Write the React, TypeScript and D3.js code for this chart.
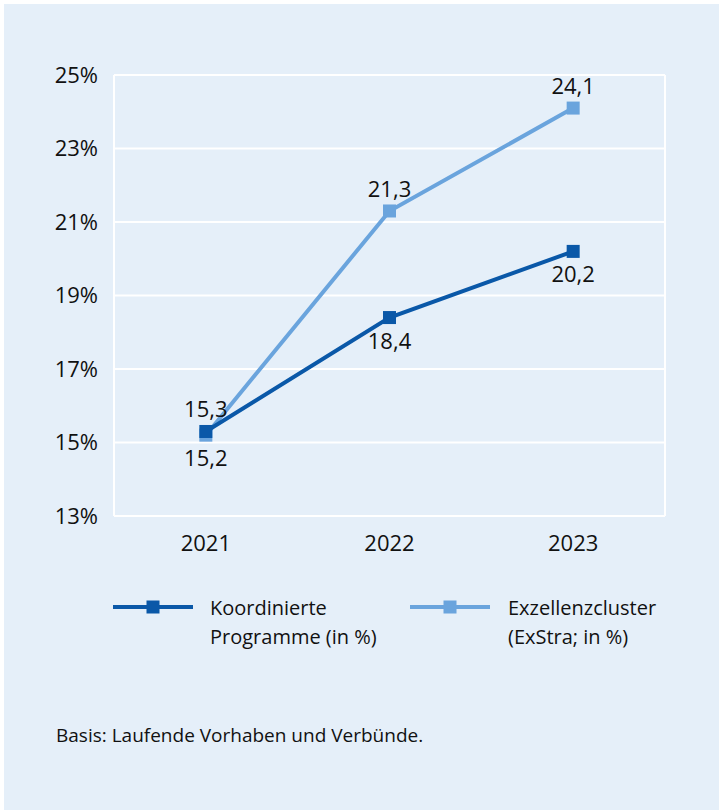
import React from "react";
import * as d3 from "d3";

const years = ["2021", "2022", "2023"];
const koordinierte = [15.3, 18.4, 20.2];
const exzellenz = [15.2, 21.3, 24.1];
const yTicks = [13, 15, 17, 19, 21, 23, 25];
const series = [
  { name: ["Koordinierte", "Programme (in %)"], values: koordinierte, color: "#0a58a8", labelPos: ["above", "below", "below"] },
  { name: ["Exzellenzcluster", "(ExStra; in %)"], values: exzellenz, color: "#6aa4dd", labelPos: ["below", "above", "above"] },
];
const footnote = "Basis: Laufende Vorhaben und Verbünde.";

const W = 726, H = 810;
const plot = { left: 114, right: 665, top: 75, bottom: 516 };
const FONT = "'Open Sans', 'Noto Sans', sans-serif";

export default function App() {
  const x = d3.scalePoint<string>().domain(years).range([plot.left, plot.right]).padding(0.5);
  const y = d3.scaleLinear().domain([13, 25]).range([plot.bottom, plot.top]);
  const line = d3.line<number>().x((_, i) => x(years[i]) as number).y((d) => y(d));
  const fmt = (v: number) => v.toFixed(1).replace(".", ",");
  const ms = 13;
  const drawOrder = [1, 0];
  return (
    <svg width={W} height={H} style={{ position: "absolute", left: 0, top: 0 }} fontFamily={FONT}>
      <rect x={0} y={0} width={W} height={H} fill="#ffffff" />
      <rect x={4} y={4} width={715} height={806} fill="#e5eff9" />
      {yTicks.map((t) => (
        <g key={t}>
          <line x1={plot.left} x2={plot.right} y1={y(t)} y2={y(t)} stroke="#ffffff" strokeWidth={2} />
          <text x={98} y={y(t)} dy="0.36em" textAnchor="end" fontSize={22} fill="#111">{t}%</text>
        </g>
      ))}
      <line x1={plot.left} x2={plot.left} y1={plot.top} y2={plot.bottom} stroke="#fff" strokeWidth={2} />
      <line x1={plot.right} x2={plot.right} y1={plot.top} y2={plot.bottom} stroke="#fff" strokeWidth={2} />
      {years.map((yr) => (
        <text key={yr} x={x(yr)} y={551} textAnchor="middle" fontSize={22} fill="#111">{yr}</text>
      ))}
      {drawOrder.map((si) => {
        const s = series[si];
        return (
          <g key={si}>
            <path d={line(s.values) as string} fill="none" stroke={s.color} strokeWidth={4} />
            {s.values.map((v, i) => (
              <rect key={i} x={(x(years[i]) as number) - ms / 2} y={y(v) - ms / 2} width={ms} height={ms} fill={s.color} />
            ))}
          </g>
        );
      })}
      {series.map((s, si) =>
        s.values.map((v, i) => (
          <text key={`${si}-${i}`} x={x(years[i])} y={s.labelPos[i] === "above" ? y(v) - 14 : y(v) + 31}
            textAnchor="middle" fontSize={22} fill="#111">{fmt(v)}</text>
        ))
      )}
      {series.map((s, si) => {
        const lx = si === 0 ? 113 : 410;
        const tx = si === 0 ? 210 : 508;
        return (
          <g key={si}>
            <line x1={lx} x2={lx + 80} y1={607} y2={607} stroke={s.color} strokeWidth={4} />
            <rect x={lx + 40 - ms / 2} y={607 - ms / 2} width={ms} height={ms} fill={s.color} />
            <text x={tx} y={615} fontSize={20} fill="#111">{s.name[0]}</text>
            <text x={tx} y={644} fontSize={20} fill="#111">{s.name[1]}</text>
          </g>
        );
      })}
      <text x={56} y={742} fontSize={19} fill="#111">{footnote}</text>
    </svg>
  );
}
